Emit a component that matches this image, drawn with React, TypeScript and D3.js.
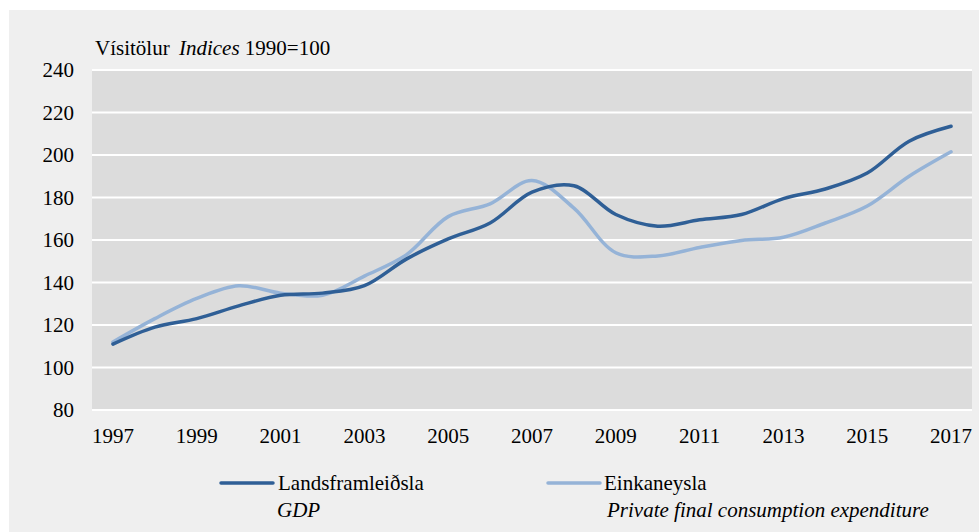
import React from 'react';
import * as d3 from 'd3';

const years = d3.range(1997, 2018);
const gdp = [111, 119, 123, 129, 134, 135, 138.5, 151, 160.5, 168, 182.5, 185.5, 172, 166.5, 169.5, 172, 179.5, 184, 191.5, 206.5, 213.5];
const consumption = [112, 123, 132.5, 138.5, 135, 134, 143, 153, 171, 177, 188, 175, 154, 152.5, 156.5, 159.8, 161.3, 168, 176, 190, 201.5];
const yTicks = [80, 100, 120, 140, 160, 180, 200, 220, 240];
const xLabels = years.filter((y) => (y - 1997) % 2 === 0);

const W = 979;
const H = 532;
const margin = { top: 70, right: 7, bottom: 122, left: 92 };
const dark = '#2f5f96';
const light = '#95b3d7';
const serif = 'Liberation Serif';

const App = () => {
  const x = d3.scaleBand<number>()
    .domain(years)
    .range([margin.left, W - margin.right]);

  const y = d3.scaleLinear()
    .domain([80, 240])
    .range([H - margin.bottom, margin.top]);

  const cx = (yr: number) => (x(yr) ?? 0) + x.bandwidth() / 2;

  const line = d3.line<number>()
    .x((_, i) => cx(years[i]))
    .y((d) => y(d))
    .curve(d3.curveCatmullRom.alpha(0.5));

  return (
    <svg width={W} height={H} style={{ position: 'absolute', left: 0, top: 0, background: '#fff' }}>
      <rect x={9} y={10} width={W - 9} height={H - 10} fill="#efefef" />
      <rect
        x={margin.left}
        y={margin.top}
        width={W - margin.right - margin.left}
        height={H - margin.bottom - margin.top}
        fill="#dcdcdc"
      />
      <g fontFamily={serif} fontSize={21} fill="#000">
        {yTicks.map((t) => (
          <g key={t}>
            <line x1={margin.left} x2={W - margin.right} y1={y(t)} y2={y(t)} stroke="#fff" strokeWidth={2} />
            <text x={74} y={y(t)} dy="0.35em" textAnchor="end">
              {t}
            </text>
          </g>
        ))}
        {xLabels.map((yr) => (
          <text key={yr} x={cx(yr)} y={443} textAnchor="middle">
            {yr}
          </text>
        ))}
        <text x={95} y={55}>
          Vísitölur <tspan fontStyle="italic" dx={4}>Indices</tspan> 1990=100
        </text>

        <path d={line(consumption) ?? ''} fill="none" stroke={light} strokeWidth={3.5} strokeLinecap="round" />
        <path d={line(gdp) ?? ''} fill="none" stroke={dark} strokeWidth={3.5} strokeLinecap="round" />

        {/* legend */}
        <line x1={221} x2={273} y1={483} y2={483} stroke={dark} strokeWidth={3.5} strokeLinecap="round" />
        <text x={278} y={490}>Landsframleiðsla</text>
        <text x={277} y={517} fontStyle="italic">GDP</text>
        <line x1={548} x2={600} y1={483} y2={483} stroke={light} strokeWidth={3.5} strokeLinecap="round" />
        <text x={604} y={490}>Einkaneysla</text>
        <text x={607} y={517} fontStyle="italic">
          Private final consumption expenditure
        </text>
      </g>
    </svg>
  );
};

export default App;
